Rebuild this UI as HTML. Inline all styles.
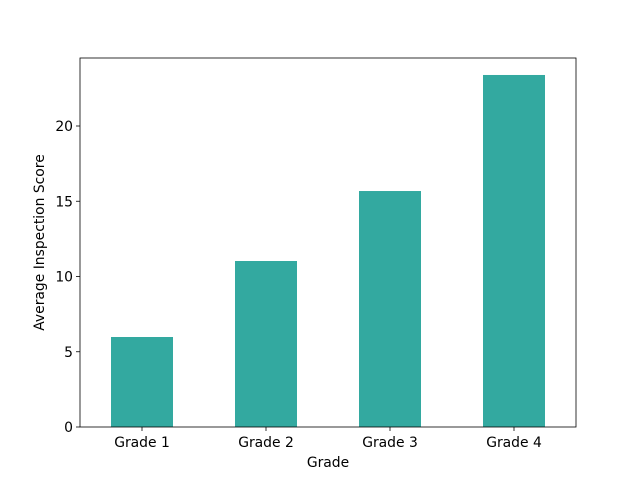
<!DOCTYPE html>
<html><head><meta charset="utf-8"><style>body{margin:0;background:#fff}svg{display:block;font-family:"DejaVu Sans","Liberation Sans",sans-serif}</style></head>
<body>
<svg id="chart" width="640" height="480"></svg>
<script>
const categories = ["Grade 1","Grade 2","Grade 3","Grade 4"];
const scores = [5.98, 11.03, 15.68, 23.39];
const yTicks = [0,5,10,15,20];
const NS="http://www.w3.org/2000/svg";
const svg=document.getElementById('chart');
const L=80,R=576,T=58,B=427;
const FS=13.9;
const x=i=>L+(i+0.5)*(R-L)/categories.length;
const y=v=>B-v*15.05;
function mk(tag,attrs,parent){const e=document.createElementNS(NS,tag);for(const k in attrs)e.setAttribute(k,attrs[k]);(parent||svg).appendChild(e);return e;}
const bw=(R-L)/categories.length*0.5;
categories.forEach((c,i)=>{
  const r=mk('rect',{x:x(i)-bw/2,y:y(scores[i]),width:bw,height:B-y(scores[i]),fill:'#33a9a0'});
  
  
  mk('line',{x1:x(i),x2:x(i),y1:B,y2:B+4,stroke:'#000','stroke-width':0.8});
  const t=mk('text',{x:x(i),y:B+20,'text-anchor':'middle','font-size':FS});
  t.textContent=c;
  
  
});
yTicks.forEach(v=>{
  mk('line',{x1:L-4,x2:L,y1:y(v),y2:y(v),stroke:'#000','stroke-width':0.8});
  const t=mk('text',{x:L-7,y:y(v)+5,'text-anchor':'end','font-size':FS});
  t.textContent=v;
  
  
});
const f=mk('rect',{x:L,y:T,width:R-L,height:B-T,fill:'none',stroke:'#000','stroke-width':0.8});


const xt=mk('text',{x:(L+R)/2,y:467,'text-anchor':'middle','font-size':FS});
xt.textContent='Grade';


const yt=mk('text',{x:0,y:0,'text-anchor':'middle','font-size':FS,transform:'translate(44,'+((T+B)/2)+') rotate(-90)'});
yt.textContent='Average Inspection Score';


</script>
</body></html>
